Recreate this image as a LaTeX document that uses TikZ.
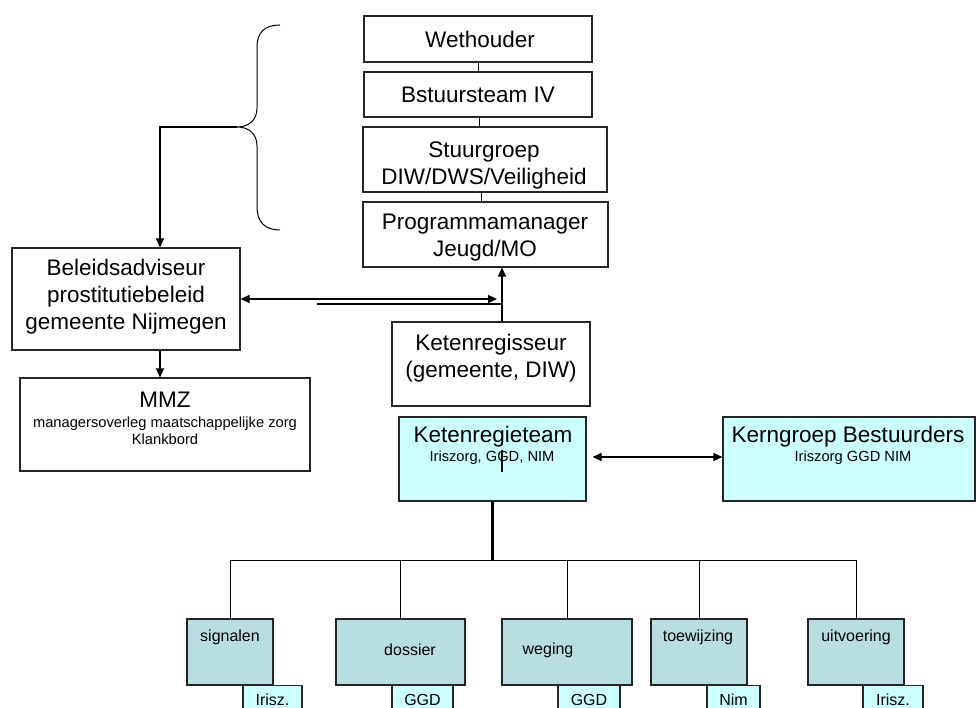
\documentclass[tikz,border=0pt]{standalone}
\usepackage{fontspec}
\setmainfont{Liberation Sans}
\usetikzlibrary{arrows.meta}
\definecolor{tealbox}{RGB}{185,222,226}
\definecolor{cyanbox}{RGB}{204,255,255}
\begin{document}
\begin{tikzpicture}[x=1pt,y=-1pt,
  box/.style={draw=black!85, line width=1.1pt, rectangle, inner sep=0pt},
  big/.style={font=\fontsize{22.5}{27}\selectfont, align=center, inner sep=0pt},
  small/.style={font=\fontsize{14.7}{17}\selectfont, align=center, inner sep=0pt},
  lab/.style={font=\fontsize{16}{19}\selectfont, inner sep=0pt},
  conn/.style={line width=1.2pt, draw=black},
  arr/.style={conn, -{Triangle[length=9pt,width=8pt]}},
  darr/.style={conn, {Triangle[length=9pt,width=8pt]}-{Triangle[length=9pt,width=8pt]}},
  trunk/.style={line width=2.2pt, draw=black},
]
\useasboundingbox (0,0) rectangle (976,708);
\clip (0,0) rectangle (976,708);
\fill[white] (0,0) rectangle (976,708);

% top column
\node[box, minimum width=228pt, minimum height=46pt] (wet) at (478,39) {};
\node[big] (wett) at (480,39) {Wethouder};
\node[box, minimum width=228pt, minimum height=45pt] (bst) at (478,94.5) {};
\node[big] (bstt) at (478,95) {Bstuursteam IV};
\node[box, minimum width=244pt, minimum height=65pt] (stu) at (485,159.5) {};
\node[big] (stut) at (484,165) {Stuurgroep\\DIW/DWS/Veiligheid};
\node[box, minimum width=245pt, minimum height=65pt] (prg) at (485.5,234.5) {};
\node[big] (prgt) at (485,238) {Programmamanager\\Jeugd/MO};

\draw[conn, line width=1pt] (wet.south) -- (bst.north);
\draw[conn, line width=1pt] ([xshift=1pt]bst.south) -- ([xshift=1pt]bst.south |- stu.north);
\draw[conn, line width=1pt] ([xshift=-4pt]stu.south) -- ([xshift=-4pt]stu.south |- prg.north);

% brace
\coordinate (btip) at (237,127);
\draw[conn, line width=1pt] (280,25) .. controls (265,25) and (257,32) .. (257,47)
  -- (257,108) .. controls (257,120) and (249,127) .. (btip)
  .. controls (249,127) and (257,134) .. (257,146)
  -- (257,207) .. controls (257,222) and (265,230) .. (280,230);

% left column
\node[box, minimum width=228pt, minimum height=102pt] (bel) at (126,299) {};
\node[big] (belt) at (126,297) {Beleidsadviseur\\prostitutiebeleid\\gemeente Nijmegen};
\node[box, minimum width=290pt, minimum height=93pt] (mmz) at (165,424.5) {};
\node[big] (mmzt) at (165,400) {MMZ};
\node[small] (mmzs) at (165,431) {managersoverleg maatschappelijke zorg\\Klankbord};

\draw[arr] (btip) -| ([xshift=34pt]bel.north);
\draw[arr] ([xshift=34pt]bel.south) -- ([xshift=34pt]bel.south |- mmz.north);

% Ketenregisseur
\node[box, minimum width=198pt, minimum height=84pt] (ketr) at (491,364) {};
\node[big] (ketrt) at (491,358) {Ketenregisseur\\(gemeente, DIW)};

\coordinate (kv) at ([xshift=11pt]ketr.north);
\draw[arr] (kv) -- (kv |- prg.south);
\draw[darr] (bel.east) -- ([xshift=-5pt]bel.east -| kv);
\coordinate (lowstart) at (317,304);
\draw[conn] (lowstart) -- (lowstart -| kv);

% Ketenregieteam & Kerngroep
\node[box, fill=cyanbox, minimum width=187pt, minimum height=84pt] (ktm) at (492.5,459) {};
\node[big] (ktmt) at (493,437) {Ketenregieteam};
\node[small] (ktms) at (492,458) {Iriszorg, GGD, NIM};
\coordinate (tick1) at (502,450);
\coordinate (tick2) at (502,472);
\draw[conn] (tick1) -- (tick2);

\node[box, fill=cyanbox, minimum width=252pt, minimum height=84pt] (kern) at (849,459) {};
\node[big] (kernt) at (848,437) {Kerngroep Bestuurders};
\node[small] (kerns) at (853,458) {Iriszorg GGD NIM};

\draw[darr] ([xshift=6pt,yshift=2pt]ktm.east) -- ([yshift=2pt]kern.west);

% sub boxes (bottom, clipped)
\node[box, fill=cyanbox, minimum width=59pt, minimum height=40pt, anchor=north] (s1) at (272.5,685) {};
\node[box, fill=cyanbox, minimum width=61pt, minimum height=40pt, anchor=north] (s2) at (422.5,685) {};
\node[box, fill=cyanbox, minimum width=62pt, minimum height=40pt, anchor=north] (s3) at (589,685) {};
\node[box, fill=cyanbox, minimum width=53pt, minimum height=40pt, anchor=north] (s4) at (733.5,685) {};
\node[box, fill=cyanbox, minimum width=60pt, minimum height=40pt, anchor=north] (s5) at (893,685) {};
\node[lab] (s1t) at (272.5,700) {Irisz.};
\node[lab] (s2t) at (422.5,700) {GGD};
\node[lab] (s3t) at (589,700) {GGD};
\node[lab] (s4t) at (733.5,700) {Nim};
\node[lab] (s5t) at (893,700) {Irisz.};

% task boxes
\node[box, fill=tealbox, minimum width=86pt, minimum height=66pt] (sig) at (230,652) {};
\node[box, fill=tealbox, minimum width=129pt, minimum height=66pt] (dos) at (400.5,652) {};
\node[box, fill=tealbox, minimum width=130pt, minimum height=66pt] (weg) at (567,652) {};
\node[box, fill=tealbox, minimum width=96pt, minimum height=66pt] (toe) at (699,652) {};
\node[box, fill=tealbox, minimum width=96pt, minimum height=66pt] (uit) at (856,652) {};
\node[lab] (sigt) at (230,637) {signalen};
\node[lab] (dost) at (410,650) {dossier};
\node[lab] (wegt) at (548,650) {weging};
\node[lab] (toet) at (698,637) {toewijzing};
\node[lab] (uitt) at (856,637) {uitvoering};

% tree
\coordinate (bar) at (0,560);
\draw[trunk] (ktm.south) -- (ktm.south |- bar);
\draw[conn, line width=1pt] (sig.north) -- (sig.north |- bar) -- (uit.north |- bar) -- (uit.north);
\draw[conn, line width=1pt] (dos.north) -- (dos.north |- bar);
\draw[conn, line width=1pt] (weg.north) -- (weg.north |- bar);
\draw[conn, line width=1pt] (toe.north) -- (toe.north |- bar);
\end{tikzpicture}
\end{document}
